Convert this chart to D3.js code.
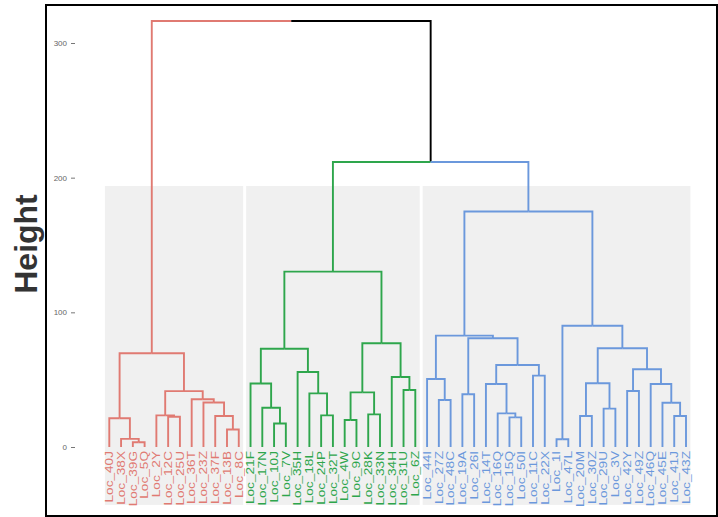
<!DOCTYPE html>
<html>
<head>
<meta charset="utf-8">
<script src="https://cdn.jsdelivr.net/npm/d3@7"></script>
<style>
  html, body { margin: 0; padding: 0; background: #ffffff; }
  svg { display: block; }
</style>
</head>
<body>
<svg id="chart" width="718" height="517"></svg>
<script>
// Leaf labels in dendrogram order (left to right)
const leafLabels = [
  "Loc_40J", "Loc_38X", "Loc_39G", "Loc_5Q", "Loc_2Y", "Loc_12C", "Loc_25U", "Loc_36T",
  "Loc_23Z", "Loc_37F", "Loc_13B", "Loc_8C",
  "Loc_21F", "Loc_17N", "Loc_10J", "Loc_7V", "Loc_35H", "Loc_18L", "Loc_24P", "Loc_32T",
  "Loc_4W", "Loc_9C", "Loc_28K", "Loc_33N", "Loc_34H", "Loc_31U", "Loc_6Z",
  "Loc_44I", "Loc_27Z", "Loc_48C", "Loc_19A", "Loc_26I", "Loc_14T", "Loc_16Q", "Loc_15Q",
  "Loc_50I", "Loc_11C", "Loc_22X", "Loc_1I", "Loc_47L", "Loc_20M", "Loc_30Z", "Loc_29U",
  "Loc_3V", "Loc_42Y", "Loc_49Z", "Loc_46Q", "Loc_45E", "Loc_41J", "Loc_43Z"
];

// Number of consecutive leaves in each of the k = 3 clusters, and their colours
const clusterSizes = [12, 15, 23];
const clusterColors = ["#e07a72", "#2ea64c", "#6b98dc"];

// Merge steps, hclust style: negative = leaf position (1-based), positive = earlier step (1-based)
const merges = [
  [-3, -4], [-2, 1], [-1, 2], [-6, -7], [-5, 4], [-11, -12], [-10, 6], [-9, 7], [-8, 8], [5, 9], [3, 10],
  [-15, -16], [-14, 12], [-13, 13], [-19, -20], [-18, 15], [-17, 16], [14, 17],
  [-21, -22], [-23, -24], [19, 20], [-26, -27], [-25, 22], [21, 23], [18, 24],
  [-29, -30], [-28, 26], [-31, -32], [-35, -36], [-34, 29], [-33, 30], [-37, -38], [31, 32], [28, 33], [27, 34],
  [-39, -40], [-41, -42], [-43, -44], [37, 38], [-45, -46], [-49, -50], [-48, 41], [-47, 42], [40, 43], [39, 44],
  [36, 45], [35, 46],
  [25, 47], [11, 48]
];

// Height of each merge step
const mergeHeights = [
  3.5, 6, 21.3, 22.5, 23.5, 13, 23, 33, 35.5, 41.5, 69.6,
  17.5, 29.2, 47.2, 23.5, 39.8, 55.7, 73,
  20, 24.2, 40.6, 42.3, 52, 77, 130.2,
  34.9, 50.5, 39.2, 22, 25, 46.8, 53, 60.9, 80.8, 82.7,
  5.7, 23, 28.5, 47.3, 41.6, 23, 32.9, 46.8, 57.7, 73.3,
  90, 174.9,
  211.6, 316.3
];

// Cluster box heights and y-axis ticks
const rectTop = 193.8;
const rectBottom = -43;
const yTicks = [0, 100, 200, 300];

const svg = d3.select("#chart");

const x = d3.scaleLinear().domain([0, leafLabels.length - 1]).range([109.3, 686]);
const y = d3.scaleLinear().domain([0, 300]).range([447, 43]);

// cluster index for every leaf
const leafCluster = [];
clusterSizes.forEach((n, c) => { for (let i = 0; i < n; i++) leafCluster.push(c); });
const clusterStart = d3.cumsum([0].concat(clusterSizes.slice(0, -1)));

// Build a nested tree from the merge table
const steps = [];
function ref(v) {
  if (v < 0) {
    const i = -v - 1;
    return { name: leafLabels[i], index: i, height: 0 };
  }
  return steps[v - 1];
}
merges.forEach((m, k) => {
  steps.push({ height: mergeHeights[k], children: [ref(m[0]), ref(m[1])] });
});
const root = d3.hierarchy(steps[steps.length - 1]);

// Horizontal position: leaves by order, internal nodes at the mean of their children
root.eachAfter(n => {
  if (!n.children) {
    n.px = x(n.data.index);
    n.cl = leafCluster[n.data.index];
  } else {
    n.px = d3.mean(n.children, c => c.px);
    const cls = new Set(n.children.map(c => c.cl));
    n.cl = (cls.size === 1 && !cls.has(-1)) ? n.children[0].cl : -1;
  }
  n.py = y(n.data.height);
});

// Shaded cluster boxes
svg.append("g").selectAll("rect")
  .data(clusterSizes)
  .join("rect")
  .attr("x", (n, c) => x(clusterStart[c]) - 4.4)
  .attr("width", (n, c) => x(clusterStart[c] + n - 1) - x(clusterStart[c]) + 8.8)
  .attr("y", y(rectTop))
  .attr("height", y(rectBottom) - y(rectTop))
  .attr("fill", "#f0f0f0");

// Dendrogram branches (elbows from each node up to its parent)
svg.append("g")
  .attr("fill", "none")
  .attr("stroke-width", 1.9)
  .selectAll("path")
  .data(root.descendants().filter(n => n.parent))
  .join("path")
  .attr("stroke", n => n.cl >= 0 ? clusterColors[n.cl] : "#000000")
  .attr("d", n => `M${n.px},${n.py}V${n.parent.py}H${n.parent.px}`);

// Leaf labels
svg.append("g")
  .selectAll("text")
  .data(root.leaves())
  .join("text")
  .attr("transform", n => `translate(${n.px},451) rotate(-90) scale(1.3,1)`)
  .attr("dy", "0.36em")
  .attr("text-anchor", "end")
  .attr("font-family", "Liberation Sans, Arial, sans-serif")
  .attr("font-size", 10.5)
  .attr("fill", n => clusterColors[n.cl])
  .text(n => n.data.name);

// Y axis
const axis = svg.append("g")
  .attr("transform", "translate(75,0)")
  .call(d3.axisLeft(y).tickValues(yTicks).tickSize(4).tickPadding(4));
axis.select(".domain").remove();
axis.selectAll("line").attr("stroke", "#777");
axis.selectAll("text")
  .attr("fill", "#666")
  .attr("font-size", 8)
  .attr("font-family", "Liberation Sans, Arial, sans-serif");

// Axis title
svg.append("text")
  .attr("transform", "translate(37,244) rotate(-90)")
  .attr("text-anchor", "middle")
  .attr("font-family", "Liberation Sans, Arial, sans-serif")
  .attr("font-weight", "bold")
  .attr("font-size", 32)
  .attr("fill", "#333")
  .text("Height");

// Panel frame
svg.append("rect")
  .attr("x", 46).attr("y", 5)
  .attr("width", 671).attr("height", 511)
  .attr("fill", "none")
  .attr("stroke", "#000")
  .attr("stroke-width", 2);
</script>
</body>
</html>
